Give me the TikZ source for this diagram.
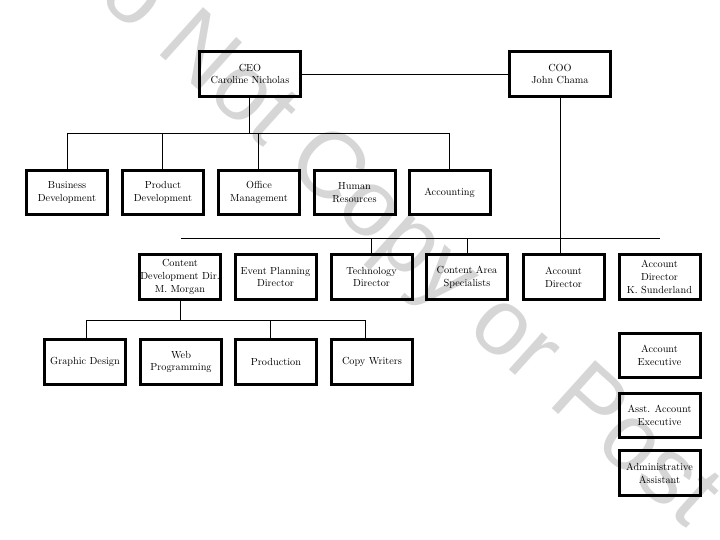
\documentclass[tikz,border=0pt]{standalone}
\usepackage{fontspec}
\newfontfamily\wmfont{Liberation Sans}
\begin{document}
\begin{tikzpicture}[x=1bp,y=-1bp,
  box/.style={draw=black,line width=3bp,minimum width=81bp,minimum height=44.5bp,
    inner sep=1bp,align=center,text=black,font=\fontsize{10.3}{13}\selectfont},
  wide/.style={minimum width=101bp},
  conn/.style={draw=black,line width=0.9bp}]
\useasboundingbox (0,0) rectangle (720,540);
\begin{scope}
\clip (0,0) rectangle (720,540);
\node[text=black!16,rotate=-42,font=\wmfont\fontsize{94bp}{94bp}\selectfont,inner sep=0] (wm) at (382,224) {Do Not Copy or Post};
\end{scope}
% top
\node[box,wide] (ceo) at (250,74) {CEO\\Caroline Nicholas};
\node[box,wide] (coo) at (560,74) {COO\\John Chama};
% row 2
\node[box] (bd) at (67,192.5) {Business\\Development};
\node[box] (pd) at (163,192.5) {Product\\Development};
\node[box] (om) at (259,192.5) {Office\\Management};
\node[box] (hr) at (354.5,192.5) {Human\\Resources};
\node[box] (acc) at (449.5,192.5) {Accounting};
% row 3
\node[box,minimum width=79bp] (cdd) at (180,277) {Content\\Development Dir.\\M. Morgan};
\node[box] (ep) at (275.5,277) {Event Planning\\Director};
\node[box] (td) at (371.5,277) {Technology\\Director};
\node[box] (cas) at (467,277) {Content Area\\Specialists};
\node[box] (ad) at (563.5,277) {Account\\Director};
\node[box] (adk) at (659.5,277) {Account\\Director\\K. Sunderland};
% row 4
\node[box] (gd) at (85,362) {Graphic Design};
\node[box] (wp) at (181,362) {Web\\Programming};
\node[box] (prod) at (276,362) {Production};
\node[box] (cw) at (372,362) {Copy Writers};
% right column
\node[box] (ae) at (659.5,355.5) {Account\\Executive};
\node[box] (aae) at (659.5,415.5) {Asst. Account\\Executive};
\node[box] (aa) at (659.5,473) {Administrative\\Assistant};
% bus coordinates
\coordinate (bus2) at (0,133);
\coordinate (bus3) at (0,238);
\coordinate (bus4) at (0,320);
% connectors
\draw[conn] (ceo.east) -- (coo.west);
\draw[conn] ([xshift=-1bp]ceo.south) -- ([xshift=-1bp]ceo.south |- bus2);
\draw[conn] (bd.north |- bus2) -- (acc.north |- bus2);
\draw[conn] (bd.north |- bus2) -- (bd.north);
\draw[conn] ([xshift=-1bp]pd.north |- bus2) -- ([xshift=-1bp]pd.north);
\draw[conn] ([xshift=-1bp]om.north |- bus2) -- ([xshift=-1bp]om.north);
\draw[conn] (acc.north |- bus2) -- (acc.north);
\draw[conn] (coo.south) -- (coo.south |- ad.north);
\draw[conn] ([xshift=1bp]cdd.north |- bus3) -- (adk.north |- bus3);
\draw[conn] (td.north |- bus3) -- (td.north);
\draw[conn] (cas.north |- bus3) -- (cas.north);
\draw[conn] (cdd.south) -- (cdd.south |- bus4);
\draw[conn] ([xshift=1bp]gd.north |- bus4) -- ([xshift=-7bp]cw.north |- bus4);
\draw[conn] ([xshift=1bp]gd.north |- bus4) -- ([xshift=1bp]gd.north);
\draw[conn] ([xshift=-6bp]prod.north |- bus4) -- ([xshift=-6bp]prod.north);
\draw[conn] ([xshift=-7bp]cw.north |- bus4) -- ([xshift=-7bp]cw.north);
\end{tikzpicture}
\end{document}
